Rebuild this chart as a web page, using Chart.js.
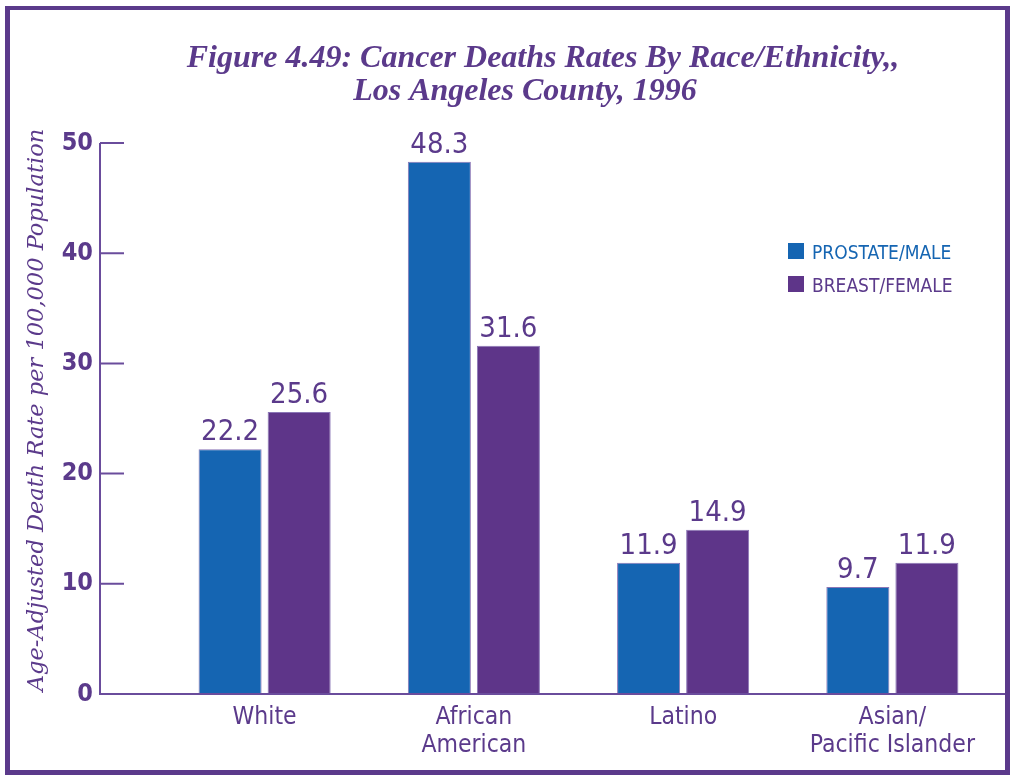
<!DOCTYPE html>
<html>
<head>
<meta charset="utf-8">
<script src="https://cdn.jsdelivr.net/npm/chart.js@4"></script>
<style>
  html, body { margin: 0; padding: 0; background: #fff; }
  #wrap { position: relative; width: 1011px; height: 776px; }
  #frame { position: absolute; left: 5px; top: 6px; width: 995px; height: 760px;
           border: 5px solid #5b3a8b; border-top-width: 4px; pointer-events: none; }
  canvas { position: absolute; left: 0; top: 0; }
</style>
</head>
<body>
<div id="wrap">
  <canvas id="barChart" width="1011" height="776"></canvas>
  <div id="frame"></div>
</div>
<script>
const categories = ['White', ['African', 'American'], 'Latino', ['Asian/', 'Pacific Islander']];
const prostateMale = [22.2, 48.3, 11.9, 9.7];
const breastFemale = [25.6, 31.6, 14.9, 11.9];
const yTicks = [0, 10, 20, 30, 40, 50];
const titleLines = ['Figure 4.49: Cancer Deaths Rates By Race/Ethnicity,,', 'Los Angeles County, 1996'];
const yTitle = 'Age-Adjusted Death Rate per 100,000 Population';

const PURPLE = '#5b3a8b';
const BLUE = '#1565b2';
const BAR_PURPLE = '#5e3589';
const SANS = '"DejaVu Sans Condensed", "DejaVu Sans", sans-serif';

// axis lines, tick marks, value labels, legend and titles
const decor = {
  id: 'decor',
  afterDraw(chart) {
    const ctx = chart.ctx;
    const y = chart.scales.y;
    const axisX = 100;
    ctx.save();
    ctx.strokeStyle = '#6a4c9c';
    ctx.lineWidth = 2;
    ctx.beginPath();
    ctx.moveTo(axisX, y.getPixelForValue(50));
    ctx.lineTo(axisX, y.getPixelForValue(0));
    ctx.lineTo(1006, y.getPixelForValue(0));
    yTicks.forEach(v => {
      const py = y.getPixelForValue(v);
      ctx.moveTo(axisX, py);
      ctx.lineTo(axisX + 24, py);
    });
    ctx.stroke();

    // values above bars
    ctx.fillStyle = PURPLE;
    ctx.font = '29px ' + SANS;
    ctx.textAlign = 'center';
    ctx.textBaseline = 'alphabetic';
    chart.data.datasets.forEach((ds, i) => {
      chart.getDatasetMeta(i).data.forEach((bar, j) => {
        ctx.fillText(ds.data[j].toFixed(1), bar.x, bar.y - 9);
      });
    });

    // legend
    ctx.font = '19px ' + SANS;
    ctx.textAlign = 'left';
    chart.data.datasets.forEach((ds, i) => {
      const ly = 243 + i * 33;
      ctx.fillStyle = ds.backgroundColor;
      ctx.fillRect(788, ly, 16, 16);
      ctx.fillStyle = i === 0 ? BLUE : PURPLE;
      ctx.fillText(ds.label, 812, ly + 16);
    });

    // chart title
    ctx.fillStyle = PURPLE;
    ctx.textAlign = 'center';
    ctx.font = 'italic bold 32px "Liberation Serif", serif';
    ctx.fillText(titleLines[0], 543, 67);
    ctx.fillText(titleLines[1], 525, 100);

    // y axis title
    ctx.translate(37, 410);
    ctx.rotate(-Math.PI / 2);
    ctx.textBaseline = 'middle';
    ctx.font = 'italic 22.5px "DejaVu Serif", serif';
    ctx.fillText(yTitle, 0, 0);
    ctx.restore();
  }
};

const ctx = document.getElementById('barChart').getContext('2d');
const chart = new Chart(ctx, {
  type: 'bar',
  data: {
    labels: categories,
    datasets: [{
      label: 'PROSTATE/MALE',
      data: prostateMale,
      backgroundColor: BLUE,
      borderColor: '#8a76b6',
      borderWidth: 1,
      categoryPercentage: 0.66,
      barPercentage: 0.913
    }, {
      label: 'BREAST/FEMALE',
      data: breastFemale,
      backgroundColor: BAR_PURPLE,
      borderColor: '#8a76b6',
      borderWidth: 1,
      categoryPercentage: 0.66,
      barPercentage: 0.913
    }]
  },
  options: {
    responsive: false,
    animation: false,
    devicePixelRatio: 1,
    layout: { padding: { top: 143, right: 14, bottom: 0, left: 0 } },
    plugins: {
      legend: { display: false },
      tooltip: { enabled: false }
    },
    scales: {
      x: {
        grid: { display: false, drawTicks: false },
        border: { display: false },
        ticks: {
          color: PURPLE,
          font: { family: SANS, size: 24.5, lineHeight: 1.14 },
          padding: 10,
          maxRotation: 0
        },
        afterFit: scale => { scale.height = 81; }
      },
      y: {
        min: 0,
        max: 50,
        grid: { display: false, drawTicks: false },
        border: { display: false },
        ticks: {
          stepSize: 10,
          color: PURPLE,
          font: { family: SANS, size: 25, weight: 'bold' },
          padding: 67
        },
        afterFit: scale => { scale.width = 160; }
      }
    }
  },
  plugins: [decor]
});
</script>
</body>
</html>
